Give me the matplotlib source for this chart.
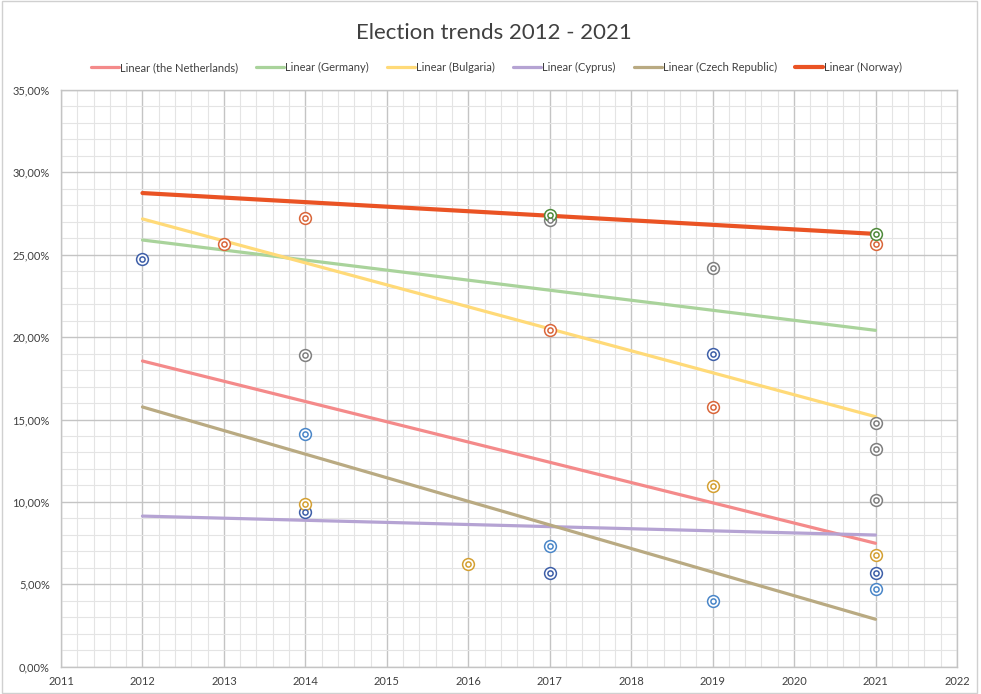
import matplotlib
matplotlib.use("Agg")
import matplotlib.pyplot as plt
import matplotlib.ticker as ticker
from matplotlib.patches import Rectangle

# scatter series (year, share in %)
years_darkblue = [2012, 2014, 2017, 2019, 2021]
vals_darkblue = [24.74, 9.39, 5.69, 18.98, 5.69]
years_orange = [2013, 2014, 2017, 2019, 2021]
vals_orange = [25.64, 27.22, 20.43, 15.76, 25.64]
years_gray = [2014, 2017, 2019, 2021, 2021, 2021]
vals_gray = [18.90, 27.10, 24.19, 14.80, 13.20, 10.12]
years_gold = [2014, 2016, 2019, 2021]
vals_gold = [9.87, 6.23, 10.96, 6.78]
years_lightblue = [2014, 2017, 2019, 2021]
vals_lightblue = [14.10, 7.32, 3.99, 4.72]
years_green = [2017, 2021]
vals_green = [27.40, 26.26]

# linear trend lines, value at start and end year
trend_names = ["the Netherlands", "Germany", "Bulgaria", "Cyprus", "Czech Republic", "Norway"]
trend_years = [2012, 2021]
trend_start = [18.55, 25.89, 27.17, 9.14, 15.76, 28.74]
trend_end = [7.49, 20.41, 15.17, 7.99, 2.88, 26.26]

trend_colors = ["#F48A8A", "#A9D39B", "#FFDA78", "#B5A3D3", "#B9AA82", "#EA5324"]
trend_widths = [2.3, 2.3, 2.3, 2.3, 2.3, 3.0]

scatter = [
    (years_darkblue, vals_darkblue, "#3E5FA8"),
    (years_orange, vals_orange, "#D9663A"),
    (years_gray, vals_gray, "#7F7F7F"),
    (years_gold, vals_gold, "#D4A032"),
    (years_lightblue, vals_lightblue, "#4A86C8"),
    (years_green, vals_green, "#4E8A3A"),
]

plt.rcParams['font.family'] = ['Lato', 'DejaVu Sans']

fig = plt.figure(figsize=(9.81, 6.94), dpi=100)
fig.patches.append(Rectangle((0.002, 0.002), 0.994, 0.996, transform=fig.transFigure,
                             fill=False, edgecolor="#D0D0D0", linewidth=1.0))
ax = fig.add_axes([0.0622, 0.0393, 0.9133, 0.8312])

for i in range(len(trend_names)):
    ax.plot(trend_years, [trend_start[i] / 100, trend_end[i] / 100], color=trend_colors[i],
            lw=trend_widths[i], solid_capstyle="round", label="Linear (" + trend_names[i] + ")",
            zorder=3)

for xs, ys, c in scatter:
    yv = [v / 100 for v in ys]
    ax.scatter(xs, yv, s=72, facecolors="white", edgecolors=c, linewidths=1.1, zorder=4)
    ax.scatter(xs, yv, s=14, facecolors="white", edgecolors=c, linewidths=1.1, zorder=5)

ax.set_xlim(2011, 2022)
ax.set_ylim(0, 0.35)
ax.xaxis.set_major_locator(ticker.MultipleLocator(1))
ax.xaxis.set_minor_locator(ticker.MultipleLocator(0.2))
ax.yaxis.set_major_locator(ticker.MultipleLocator(0.05))
ax.yaxis.set_minor_locator(ticker.MultipleLocator(0.01))
ax.yaxis.set_major_formatter(ticker.FuncFormatter(lambda v, p: ("%.2f%%" % (v * 100)).replace(".", ",")))
ax.xaxis.set_major_formatter(ticker.FuncFormatter(lambda v, p: "%d" % round(v)))
ax.grid(which="major", color="#C4C4C4", lw=1.0, zorder=1)
ax.grid(which="minor", color="#E4E4E4", lw=0.8, zorder=0)
ax.set_axisbelow(True)
for s in ax.spines.values():
    s.set_color("#C4C4C4")
    s.set_linewidth(1.0)
ax.tick_params(which="both", length=0, labelsize=8, colors="#404040")
ax.tick_params(axis="y", pad=8)
ax.tick_params(axis="x", pad=7)

fig.text(0.5036, 0.953, "Election trends 2012 - 2021", ha="center", va="center",
         fontsize=16, color="#404040")
fig.legend(loc="center", bbox_to_anchor=(0.506, 0.903), ncol=6, frameon=False,
           fontsize=8, handlelength=2.5, handletextpad=0.1, columnspacing=1.65,
           labelcolor="#404040")

fig.savefig("out.png", dpi=100)
